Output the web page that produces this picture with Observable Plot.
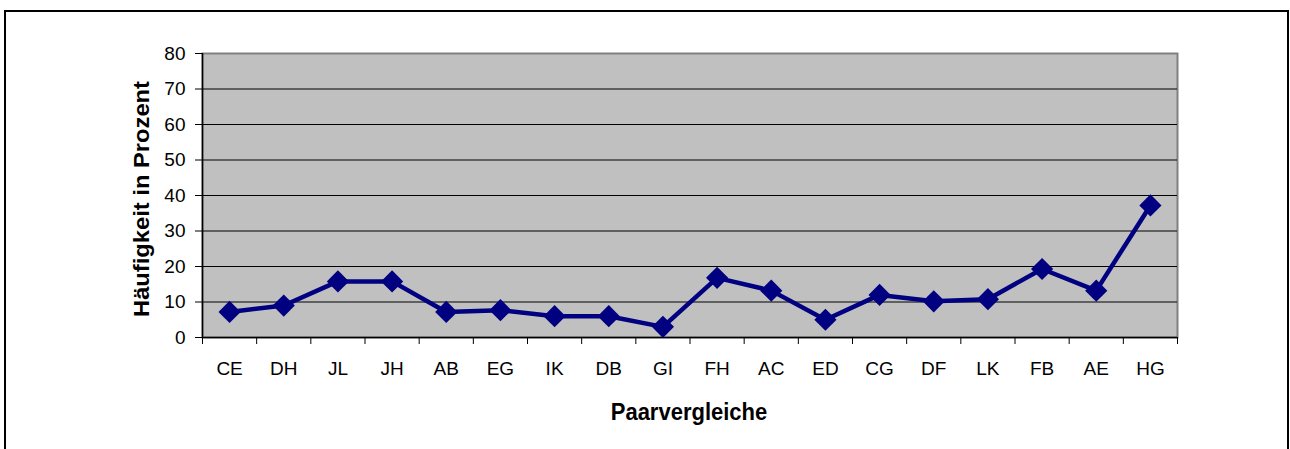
<!DOCTYPE html>
<html>
<head>
<meta charset="utf-8">
<script src="https://cdn.jsdelivr.net/npm/d3@7"></script>
<script src="https://cdn.jsdelivr.net/npm/@observablehq/plot@0.6"></script>
<style>
  html, body { margin: 0; padding: 0; background: white; }
  #wrap { position: relative; width: 1290px; height: 449px; overflow: hidden; font-family: "Liberation Sans", Arial, sans-serif; }
  #frame { position: absolute; left: 4px; top: 10px; width: 1285px; height: 460px; border: 2px solid black; box-sizing: border-box; }
  #chart { position: absolute; left: 0; top: 0; }
  .ytitle { position: absolute; left: 142px; top: 199px; transform: translate(-50%, -50%) rotate(-90deg) scale(1.13, 1.05); font-weight: bold; font-size: 21px; white-space: nowrap; }
  .xtitle { position: absolute; left: 689px; top: 413px; transform: translate(-50%, -50%) scale(1, 1.05); font-weight: bold; font-size: 22px; white-space: nowrap; }
</style>
</head>
<body>
<div id="wrap">
  <div id="frame"></div>
  <div id="chart"></div>
  <div class="ytitle">Häufigkeit in Prozent</div>
  <div class="xtitle">Paarvergleiche</div>
</div>
<script>
const categories = ["CE","DH","JL","JH","AB","EG","IK","DB","GI","FH","AC","ED","CG","DF","LK","FB","AE","HG"];
const values = [7.2, 9, 15.8, 15.8, 7.2, 7.7, 6, 6, 3, 16.8, 13.2, 5, 12, 10.2, 10.8, 19.3, 13.2, 37.2];
const yTicks = [0, 10, 20, 30, 40, 50, 60, 70, 80];

const data = categories.map((c, i) => ({cat: c, pos: i + 0.5, value: values[i]}));
const boundaries = d3.range(categories.length + 1);

const chart = Plot.plot({
  width: 1290,
  height: 449,
  marginLeft: 202,
  marginRight: 113,
  marginTop: 53,
  marginBottom: 112,
  x: {domain: [0, categories.length]},
  y: {domain: [0, 80]},
  style: {fontFamily: "'Liberation Sans', Arial, sans-serif", fontSize: "19px", color: "black", background: "transparent", overflow: "visible"},
  marks: [
    Plot.frame({fill: "#C0C0C0", stroke: "#808080", strokeWidth: 2}),
    Plot.gridY(yTicks.slice(1, -1), {stroke: "black", strokeOpacity: 1, strokeWidth: 1}),
    Plot.ruleY([0], {stroke: "black", strokeWidth: 1.5}),
    Plot.ruleX([0], {stroke: "black", strokeWidth: 1.5}),
    Plot.axisY(yTicks, {tickSize: 7, tickPadding: 10, label: null, fontSize: 19}),
    Plot.axisX(boundaries, {tickSize: 7, tickFormat: () => "", label: null}),
    Plot.axisX(data.map(d => d.pos), {tickSize: 0, tickPadding: 24, tickFormat: d => categories[Math.floor(d)], label: null, fontSize: 19}),
    Plot.line(data, {x: "pos", y: "value", stroke: "#000080", strokeWidth: 4.5}),
    Plot.dot(data, {x: "pos", y: "value", symbol: "diamond2", r: 10, fill: "#000080", stroke: "none"})
  ]
});
document.getElementById("chart").appendChild(chart);
</script>
</body>
</html>
